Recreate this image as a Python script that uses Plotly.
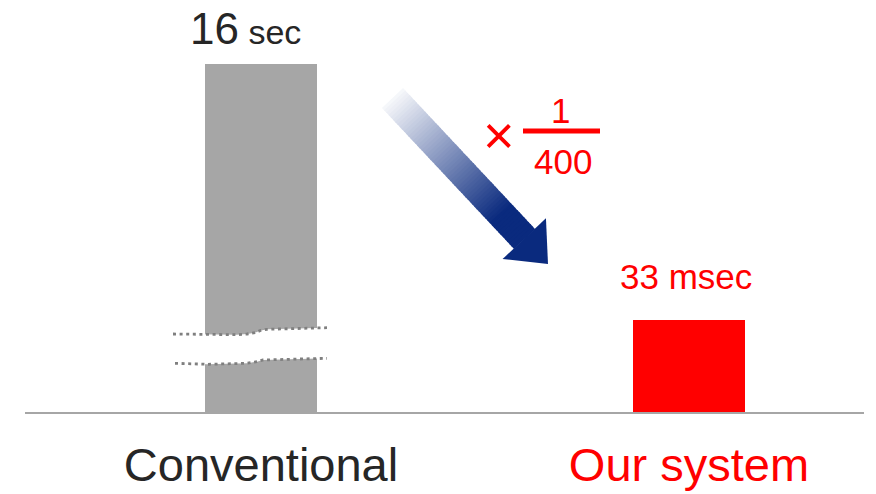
import math
import plotly.graph_objects as go

# ---- data -------------------------------------------------------------
categories = ["Conventional", "Our system"]
times_ms = [16000, 33]                 # processing time in milliseconds
value_labels = ["16", "33 msec"]
value_unit_conventional = "sec"
bar_colors = ["#a6a6a6", "#ff0000"]
category_colors = ["#262626", "#ff0000"]
reduction_num = "1"
reduction_den = "400"

# ---- page / plot geometry (pixels) ------------------------------------
W, H = 876, 494
ML, MR, MT, MB = 25, 12, 64, 82
PW, PH = W - ML - MR, H - MT - MB
Y_TOP = 124.8          # visible y range; the conventional bar is cut by the axis top
X_RANGE = [-0.5514, 1.4089]
BAR_WIDTH = 0.2617

FONT = "Liberation Sans, Arial, Helvetica, sans-serif"
RED = "#ff0000"
NAVY = (10, 42, 126)


def px(x):
    return (x - ML) / PW


def py(y):
    return (H - MB - y) / PH


fig = go.Figure()

fig.add_trace(go.Bar(
    x=categories,
    y=times_ms,
    width=BAR_WIDTH,
    marker=dict(color=bar_colors, line=dict(width=0)),
    cliponaxis=True,
    hoverinfo="skip",
    showlegend=False,
))

shapes = []

# ---- axis break drawn across the conventional bar -----------------------
upper = [(173, 334), (237, 334.7), (247, 334), (255, 332.7), (260, 330.7),
         (267, 329.3), (327, 327.7)]
lower = [(175, 363.3), (207, 364.3), (247, 363.3), (257, 361.7), (263, 360),
         (327, 358.3)]


def path_of(points, close=False):
    s = "M " + " L ".join(f"{px(x):.5f},{py(y):.5f}" for x, y in points)
    return s + (" Z" if close else "")


gap = upper + [(x, y) for x, y in reversed(lower)]
shapes.append(dict(type="path", xref="paper", yref="paper",
                   path=path_of(gap, close=True),
                   fillcolor="white", line=dict(width=0), layer="above"))
for pts in (upper, lower):
    shapes.append(dict(type="path", xref="paper", yref="paper",
                       path=path_of(pts),
                       line=dict(color="#7f7f7f", width=2.8, dash="3px,3.6px"),
                       layer="above"))

# ---- gradient arrow -------------------------------------------------------
S = (392.5, 98.0)
T = (548.0, 264.0)
dx, dy = T[0] - S[0], T[1] - S[1]
length = math.hypot(dx, dy)
u = (dx / length, dy / length)
n = (u[1], -u[0])
shaft_half = 14.5
head_half = 29.7
head_len = 34.7
base_along = length - head_len
full_color_at = 0.72 * length


def pt(along, side):
    return (S[0] + u[0] * along + n[0] * side, S[1] + u[1] * along + n[1] * side)


def mix(t):
    t = max(0.0, min(1.0, t))
    r = round(255 + (NAVY[0] - 255) * t)
    g = round(255 + (NAVY[1] - 255) * t)
    b = round(255 + (NAVY[2] - 255) * t)
    return f"rgb({r},{g},{b})"


N = 60
for i in range(N):
    a0 = base_along * i / N
    a1 = min(base_along + 0.5, base_along * (i + 1) / N + 0.9)
    t = 0.03 + (base_along * (i + 0.5) / N) / full_color_at
    quad = [pt(a0, shaft_half), pt(a1, shaft_half), pt(a1, -shaft_half), pt(a0, -shaft_half)]
    shapes.append(dict(type="path", xref="paper", yref="paper",
                       path=path_of(quad, close=True),
                       fillcolor=mix(t), line=dict(width=0), layer="above"))

head = [pt(base_along, head_half), pt(length, 0), pt(base_along, -head_half)]
shapes.append(dict(type="path", xref="paper", yref="paper",
                   path=path_of(head, close=True),
                   fillcolor=mix(1), line=dict(width=0), layer="above"))

# fraction bar of the 1/400 factor
shapes.append(dict(type="line", xref="paper", yref="paper",
                   x0=px(523), x1=px(600), y0=py(131), y1=py(131),
                   line=dict(color=RED, width=5), layer="above"))

# ---- text -----------------------------------------------------------------
annotations = [
    dict(text=f"{value_labels[0]}<span style='font-size:34px'> {value_unit_conventional}</span>",
         x=px(245), y=py(28.5), font=dict(size=44, color="#262626")),
    dict(text=value_labels[1], x=px(686), y=py(276), font=dict(size=35, color=RED)),
    dict(text="×", x=px(499), y=py(135), font=dict(size=54, color=RED)),
    dict(text=reduction_num, x=px(560), y=py(110.5), font=dict(size=35, color=RED)),
    dict(text=reduction_den, x=px(563), y=py(161), font=dict(size=35, color=RED)),
]
for a in annotations:
    a.update(xref="paper", yref="paper", xanchor="center", yanchor="middle",
             showarrow=False)
    a["font"]["family"] = FONT

ticktext = [f"<span style='color:{c}'>{t}</span>" for t, c in zip(categories, category_colors)]

fig.update_layout(
    width=W, height=H,
    margin=dict(l=ML, r=MR, t=MT, b=MB),
    paper_bgcolor="white", plot_bgcolor="white",
    font=dict(family=FONT, color="#262626"),
    shapes=shapes,
    annotations=annotations,
    bargap=0,
    xaxis=dict(
        type="category", range=X_RANGE, automargin=False,
        tickmode="array", tickvals=categories, ticktext=ticktext,
        tickfont=dict(size=47, family=FONT, color="#262626"),
        showline=True, linecolor="#a6a6a6", linewidth=2,
        showgrid=False, zeroline=False, ticks="",
        ticklabelstandoff=11, fixedrange=True,
    ),
    yaxis=dict(range=[0, Y_TOP], visible=False, showgrid=False,
               zeroline=False, fixedrange=True, automargin=False),
)

fig.write_html("out.html")
